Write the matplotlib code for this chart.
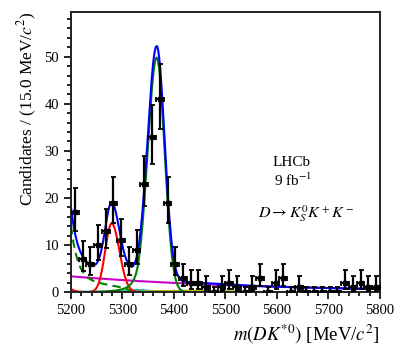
import numpy as np
import matplotlib
matplotlib.use("Agg")
import matplotlib.pyplot as plt
from matplotlib.ticker import MultipleLocator

plt.rcParams.update({"font.family": "serif",
                     "font.serif": ["Liberation Serif", "DejaVu Serif"],
                     "mathtext.fontset": "stix"})

# --- datos: centros de bin (15 MeV) y cuentas ---
bin_centers = np.arange(5207.5, 5800, 15.0)
counts = [17, 7, 6, 10, 13, 19, 11, 6, 9, 23,
          33, 41, 19, 6, 3, 2, 2, 1, 0, 1,
          2, 1, 0, 1, 3, 0, 2, 3, 0, 1,
          0, 0, 0, 0, 0, 2, 1, 2, 1, 1]

# --- parametros de las componentes del ajuste ---
bs_peak = dict(amp=49.8, mean=5366.5, sigma_l=17.5, sigma_r=15.3, alpha=2.0, n=3.0)  # verde
b0_peak = dict(amp=14.6, mean=5279.0, sigma_l=12.5, sigma_r=15.0)    # rojo
b0_low = dict(amp=0.7, tau=8.0)                                      # rojo, borde izquierdo
partreco = dict(amp_exp=11.6, tau=13.7, amp_edge=2.4, endpoint=5318.0)  # verde discontinuo
comb = dict(amp=3.35, slope=0.0027)                                  # magenta
cyan_bkg = dict(amp=0.45, mean=5330.0, sigma=22.0)
yellow_bkg = dict(amp=0.3, mean=5430.0, sigma=70.0)

x = np.linspace(5200, 5800, 1200)


def bifur_gauss(x, amp, mean, sigma_l, sigma_r):
    s = np.where(x < mean, sigma_l, sigma_r)
    return amp * np.exp(-0.5 * ((x - mean) / s) ** 2)


def gauss(x, amp, mean, sigma):
    return amp * np.exp(-0.5 * ((x - mean) / sigma) ** 2)


def crystal_ball_left(x, amp, mean, sigma_l, sigma_r, alpha, n):
    core = bifur_gauss(x, amp, mean, sigma_l, sigma_r)
    t = (x - mean) / sigma_l
    a = (n / alpha) ** n * np.exp(-0.5 * alpha ** 2)
    b = n / alpha - alpha
    tail = amp * a * np.power(np.clip(b - t, 1e-6, None), -n)
    return np.where(t < -alpha, tail, core)


green = crystal_ball_left(x, **bs_peak)
red = bifur_gauss(x, **b0_peak) + b0_low["amp"] * np.exp(-(x - 5200) / b0_low["tau"])
edge = np.clip((partreco["endpoint"] - x) / (partreco["endpoint"] - 5200), 0, None)
dashed = (partreco["amp_exp"] * np.exp(-(x - 5200) / partreco["tau"]) * (edge > 0)
          + partreco["amp_edge"] * np.sqrt(edge))
magenta = comb["amp"] * np.exp(-comb["slope"] * (x - 5200))
cyan = gauss(x, **cyan_bkg)
yellow = gauss(x, **yellow_bkg)
total = green + red + dashed + magenta + cyan + yellow

# errores de Poisson (aprox. Gehrels)
n = np.array(counts, dtype=float)
nn = np.maximum(n, 1)
err_hi = np.where(n > 0, np.sqrt(n + 0.75) + 1.0, 1.148)
err_lo = np.where(n > 0, n - n * (1 - 1 / (9 * nn) - 1 / (3 * np.sqrt(nn))) ** 3, 0)

fig = plt.figure(figsize=(4.08, 3.62), dpi=100)
ax = fig.add_axes([0.174, 0.193, 0.757, 0.774])

ax.plot(x, magenta, color="#cc00cc", lw=1.5)
ax.plot(x, cyan, color="#00b8b8", lw=1.5)
ax.plot(x, yellow, color="#b8b800", lw=1.5)
ax.plot(x, dashed, color="#008000", lw=1.5, ls=(0, (4, 2.5)))
ax.plot(x, red, color="#ff0000", lw=1.5)
ax.plot(x, green, color="#008000", lw=1.5)
ax.plot(x, total, color="#0000ff", lw=1.5)

ax.errorbar(bin_centers, counts, yerr=[err_lo, err_hi], xerr=7.5, fmt="s",
            color="black", ms=3.2, lw=1.6, capsize=1.8, capthick=1.3, zorder=5)

ax.set_xlim(5200, 5800)
ax.set_ylim(0, 59.5)
ax.xaxis.set_major_locator(MultipleLocator(100))
ax.xaxis.set_minor_locator(MultipleLocator(20))
ax.yaxis.set_major_locator(MultipleLocator(10))
ax.yaxis.set_minor_locator(MultipleLocator(2))
ax.tick_params(which="both", direction="out", width=1.2, labelsize=10.5)
ax.tick_params(which="major", length=5)
ax.tick_params(which="minor", length=3)
for sp in ax.spines.values():
    sp.set_linewidth(1.4)
    sp.set_color("#222222")

ax.set_ylabel(r"Candidates / (15.0 MeV/$c^2$)", fontsize=12.5, loc="top")
ax.set_xlabel(r"$m(DK^{*0})$ [MeV/$c^2$]", fontsize=13.5, loc="right")

ax.text(0.715, 0.464, "LHCb", transform=ax.transAxes, ha="center", va="center", fontsize=11)
ax.text(0.72, 0.40, r"9 fb$^{-1}$", transform=ax.transAxes, ha="center", va="center", fontsize=11)
ax.text(0.76, 0.282, r"$D \rightarrow K^0_S K^+ K^-$", transform=ax.transAxes,
        ha="center", va="center", fontsize=11.5)

fig.savefig("out.png", dpi=100, facecolor="white")
